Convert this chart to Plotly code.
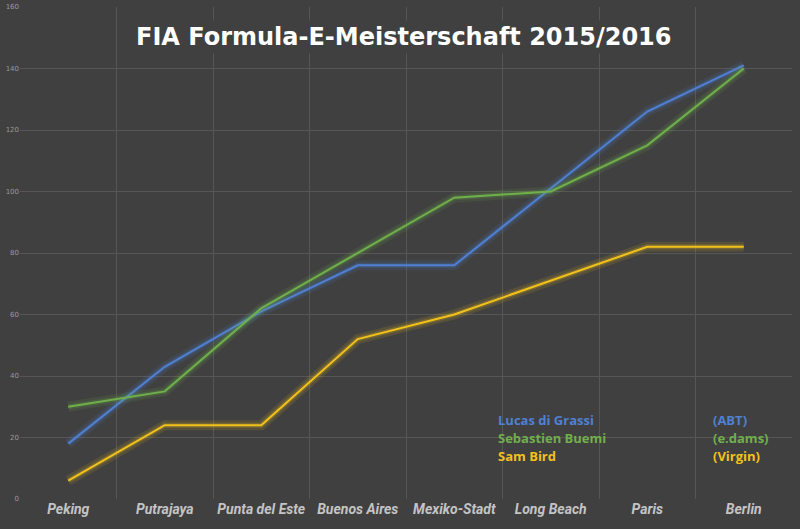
import plotly.graph_objects as go

races = ["Peking", "Putrajaya", "Punta del Este", "Buenos Aires",
         "Mexiko-Stadt", "Long Beach", "Paris", "Berlin"]
di_grassi = [18, 43, 61, 76, 76, 101, 126, 141]
buemi = [30, 35, 62, 80, 98, 100, 115, 140]
bird = [6, 24, 24, 52, 60, 71, 82, 82]

drivers = ["Lucas di Grassi", "Sebastien Buemi", "Sam Bird"]
teams = ["(ABT)", "(e.dams)", "(Virgin)"]
colors = ["#4f80d4", "#6fb04a", "#f2c21b"]

bg = "#404040"

fig = go.Figure()
for name, values, color in zip(drivers, [di_grassi, buemi, bird], colors):
    # soft glow under each line
    fig.add_trace(go.Scatter(x=races, y=values, mode="lines", showlegend=False,
                             hoverinfo="skip", opacity=0.12,
                             line=dict(color=color, width=10)))
    fig.add_trace(go.Scatter(x=races, y=values, mode="lines", showlegend=False,
                             hoverinfo="skip", opacity=0.2,
                             line=dict(color=color, width=5)))
    fig.add_trace(go.Scatter(x=races, y=values, mode="lines", name=name,
                             showlegend=False, line=dict(color=color, width=2)))

# legend written as coloured text
legend_y = [0.160, 0.124, 0.088]
for name, team, color, ly in zip(drivers, teams, colors, legend_y):
    fig.add_annotation(x=0.618, y=ly, xref="paper", yref="paper",
                       text=name, showarrow=False, xanchor="left", yanchor="middle",
                       borderpad=0,
                       font=dict(family="Open Sans", size=13, color=color, weight="bold"))
    fig.add_annotation(x=0.896, y=ly, xref="paper", yref="paper",
                       text=team, showarrow=False, xanchor="left", yanchor="middle",
                       borderpad=0,
                       font=dict(family="Open Sans", size=13, color=color, weight="bold"))

fig.add_annotation(x=0.497, y=0.939, xref="paper", yref="paper",
                   text="FIA Formula-E-Meisterschaft 2015/2016", showarrow=False,
                   yanchor="middle", bgcolor=bg, borderpad=2,
                   font=dict(family="DejaVu Sans", size=24, color="white", weight=600))

fig.update_layout(
    width=800, height=529,
    paper_bgcolor=bg, plot_bgcolor=bg,
    margin=dict(l=20, r=8, t=7, b=30),
    xaxis=dict(
        type="category", tickson="boundaries", range=[-0.5, 7.5], showgrid=True,
        gridcolor="#565656", gridwidth=1, ticks="outside", ticklen=5,
        tickcolor=bg, zeroline=False, showline=False, tickangle=0,
        automargin=False,
        tickfont=dict(family="Roboto", size=14, color="#c4c4c4",
                      weight="bold", style="italic"),
    ),
    yaxis=dict(
        range=[0, 160], dtick=20, showgrid=True, gridcolor="#565656",
        gridwidth=1, zeroline=False, showline=False, automargin=False,
        tickfont=dict(family="DejaVu Sans", size=7, color="#9a9a9a"),
    ),
)

# page body has a default 8px margin; drop it so the figure fills the window
fig.write_html("out.html", config={"displayModeBar": False},
               post_script="document.body.style.margin='0px';")
